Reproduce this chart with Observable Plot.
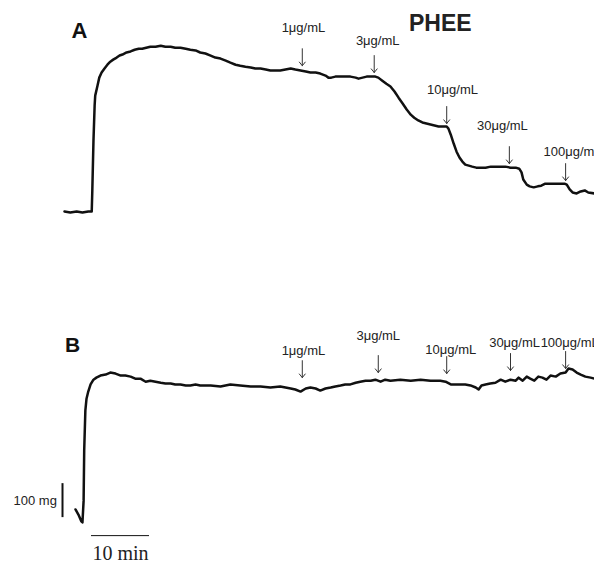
<!DOCTYPE html>
<html><head><meta charset="utf-8">
<script src="https://cdn.jsdelivr.net/npm/d3@7"></script>
<script src="https://cdn.jsdelivr.net/npm/@observablehq/plot@0.6"></script>
<style>
body{margin:0;background:#fff;overflow:hidden}
#chart{width:594px;height:564px}
#chart svg{display:block;overflow:visible}
</style>
</head><body><div id="chart"></div>
<script>
// Time in minutes from start of recording; tension in mg.
const aTime = [0,1.0,2.1,3.1,4.1,4.7,4.8,5.0,5.2,5.3,5.7,6.0,6.4,6.9,7.4,7.9,8.4,9.0,9.5,10.0,10.7,11.4,12.1,12.8,13.4,14.1,14.8,15.7,16.6,17.4,18.3,19.1,20.0,20.9,21.7,22.6,23.4,24.3,25.2,26.0,26.9,27.8,28.6,29.5,30.3,31.2,32.1,32.9,33.8,34.7,35.5,36.4,37.2,38.1,39.0,39.8,40.7,41.6,42.4,43.3,44.1,45.0,45.5,46.0,46.7,47.6,48.4,49.3,50.2,50.7,51.4,52.1,52.8,53.6,54.1,54.8,55.5,56.2,56.9,57.6,58.3,59.0,59.7,60.3,61.0,61.7,62.4,63.1,63.8,64.5,65.2,65.9,66.2,66.6,67.1,67.6,68.1,68.6,69.1,69.7,70.3,71.0,71.7,72.6,73.5,74.3,75.2,76.0,76.9,77.8,78.4,78.8,79.1,79.7,80.2,80.9,81.6,82.2,82.9,83.8,84.7,85.5,86.2,86.6,87.1,87.6,88.3,89.0,89.7,90.3,91.4];
const aTension = [0,-3,0,-3,0,0,62,209,312,341,371,394,409,421,432,441,447,453,459,462,468,471,476,479,479,482,485,485,488,485,485,482,482,479,476,474,468,465,459,453,450,444,438,432,429,426,424,421,421,418,415,415,415,418,421,418,415,412,409,409,406,400,394,394,397,397,397,397,394,391,394,397,397,397,394,385,376,368,353,335,318,300,285,276,268,262,259,256,253,250,250,250,244,226,200,176,159,147,138,135,132,129,129,129,132,132,132,132,129,129,126,115,94,79,74,71,74,76,82,82,82,82,82,79,65,56,53,59,62,56,53];

const bTime = [1.9,2.4,2.9,3.1,3.3,3.4,3.6,3.8,4.1,4.5,5.0,5.5,6.2,7.1,7.9,8.8,9.7,10.5,11.4,12.2,13.1,14.0,14.8,15.7,16.6,17.4,18.3,19.1,20.0,20.9,21.7,22.6,23.4,25.2,26.9,28.6,30.3,32.1,33.8,35.5,37.2,39.0,39.8,40.7,41.6,42.4,43.3,44.1,45.0,45.9,46.7,47.6,48.4,49.3,50.2,51.0,51.9,52.8,53.6,54.5,55.3,56.2,57.9,59.7,61.4,63.1,64.8,65.7,66.6,67.4,68.3,69.1,70.0,70.9,71.4,71.9,72.6,73.4,74.3,75.2,76.0,76.9,77.8,78.3,79.0,79.7,80.3,81.0,81.7,82.4,83.1,83.8,84.7,85.5,86.4,86.9,87.6,88.3,89.0,89.8,90.7,91.4];
const bTension = [-47,-62,-82,-85,-21,126,244,279,300,321,335,341,347,350,356,353,347,347,344,338,338,329,332,329,326,324,324,321,321,318,318,321,318,318,315,321,318,315,315,312,315,309,306,300,309,312,309,303,309,312,315,318,321,321,326,329,332,332,335,329,335,332,335,332,335,332,332,329,321,321,321,321,318,312,306,318,321,324,326,335,329,335,332,341,332,344,338,332,344,341,335,347,344,353,356,368,365,356,350,344,341,338];

const doseLabels = ["1\u03bcg/mL","3\u03bcg/mL","10\u03bcg/mL","30\u03bcg/mL","100\u03bcg/mL"];
// arrow time, arrow tip level (mg), label time, label level (mg)
const aDoseTime = [41.0,53.4,65.9,76.7,86.4];
const aDoseTip = [429,409,259,141,91];
const aLabelTime = [41.2,54.0,66.9,75.5,87.6];
const aLabelLevel = [541,503,359,253,176];
const bDoseTime = [41.0,54.1,65.9,76.9,86.4];
const bDoseTip = [341,356,353,362,368];
const bLabelTime = [41.2,54.1,66.6,77.6,87.1];
const bLabelLevel = [421,465,424,444,444];
const arrowSpan = 50; // mg

const scaleMinutes = 10, scaleMg = 100;

const font = "'Liberation Sans', Arial, Helvetica, sans-serif";

function traceRows(t, v){ return t.map((x,i)=>({t:x, mg:v[i]})); }
function doseRows(t, tip, lt, ll){ return doseLabels.map((l,i)=>({label:l, t:t[i], tip:tip[i], lt:lt[i], ll:ll[i]})); }

function panel(trace, doses, extra){
  return Plot.plot({
    width:594, height:282, margin:0,
    x:{domain:[-11.03,91.38], axis:null},
    y:{domain:[-209,621], axis:null},
    marks:[
      Plot.line(trace,{x:"t", y:"mg", stroke:"#111", strokeWidth:2.5, strokeLinejoin:"round"}),
      Plot.arrow(doses,{x1:"t", x2:"t", y1:d=>d.tip+arrowSpan, y2:"tip", stroke:"#333", strokeWidth:1, headLength:7, headAngle:78}),
      Plot.text(doses,{x:"lt", y:"ll", text:"label", fontSize:13, fontFamily:font, fill:"#222"}),
      ...extra
    ]
  });
}

const chart = document.getElementById("chart");
chart.append(panel(traceRows(aTime,aTension), doseRows(aDoseTime,aDoseTip,aLabelTime,aLabelLevel), [
  Plot.text(["A"],{x:2.6, y:532, text:d=>d, fontSize:22, fontWeight:"bold", fontFamily:font, fill:"#111"}),
  Plot.text(["PHEE"],{x:64.8, y:553, text:d=>d, fontSize:23, fontWeight:"bold", fontFamily:font, fill:"#222"})
]));
chart.append(panel(traceRows(bTime,bTension), doseRows(bDoseTime,bDoseTip,bLabelTime,bLabelLevel), [
  Plot.text(["B"],{x:1.4, y:435, text:d=>d, fontSize:21, fontWeight:"bold", fontFamily:font, fill:"#111"}),
  Plot.ruleX([-0.34],{y1:-71, y2:-71+scaleMg, stroke:"#111", strokeWidth:2}),
  Plot.text(["100 mg"],{x:-1.3, y:-21, text:d=>d, textAnchor:"end", fontSize:13, fontFamily:font, fill:"#222"}),
  Plot.ruleY([-124],{x1:4.66, x2:4.66+scaleMinutes, stroke:"#111", strokeWidth:1}),
  Plot.text(["10 min"],{x:4.66+scaleMinutes/2, y:-176, text:d=>d, fontSize:20, fontFamily:"'Liberation Serif', 'Times New Roman', serif", fill:"#222"})
]));
</script>
</body></html>
